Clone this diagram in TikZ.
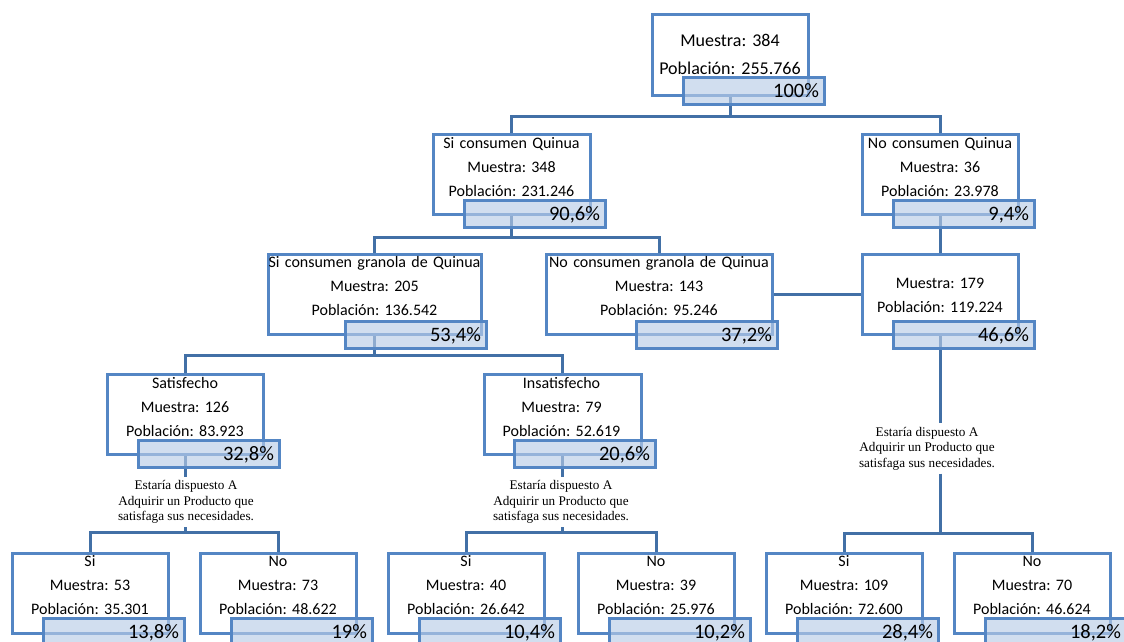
\documentclass[tikz,border=0pt]{standalone}
\usepackage{fontspec}
\setmainfont{Carlito}
\newfontfamily\notafont{Liberation Serif}
\usetikzlibrary{backgrounds}
\frenchspacing
\definecolor{marco}{RGB}{84,134,196}
\definecolor{enlace}{RGB}{66,112,166}
\definecolor{banda}{RGB}{184,204,230}
\tikzset{
  caja/.style={draw=marco,line width=3pt,minimum height=80pt,inner sep=0pt},
  dato/.style={text width=240pt,align=center,anchor=base,inner sep=0pt,
    font=\fontsize{16}{24}\selectfont},
  pct/.style={draw=marco,line width=3pt,fill=banda,fill opacity=0.65,text opacity=1,
    minimum width=141pt,minimum height=27pt,text width=131pt,align=right,
    inner xsep=5pt,inner ysep=0pt,text height=13pt,text depth=0pt,
    font=\fontsize{20.5}{24}\selectfont},
  nota/.style={align=center,inner xsep=2pt,inner ysep=3.5pt,
    font=\notafont\fontsize{13.2}{15.5}\selectfont},
  link/.style={draw=enlace,line width=3pt},
}

\begin{document}
\begin{tikzpicture}[x=1pt,y=-1pt]
  \useasboundingbox (0,0) rectangle (1124,641);
  % total
  \node[caja,minimum width=156pt,minimum height=81pt] (r) at (730,54.5) {};
  \node[dato,font=\fontsize{18}{28}\selectfont] (r-t) at (730,46) {Muestra: 384\\Población: 255.766};
  \node[pct] (r-p) at (753.5,90.5) {100\%};
  % consumo de quinua
  \node[caja,minimum width=157pt] (a) at (511.5,174) {};
  \node[dato] (a-t) at (511.5,148) {Si consumen Quinua\\Muestra: 348\\Población: 231.246};
  \node[pct] (a-p) at (534.5,213.5) {90,6\%};
  \node[caja,minimum width=156pt] (b) at (940,174) {};
  \node[dato] (b-t) at (940,148) {No consumen Quinua\\Muestra: 36\\Población: 23.978};
  \node[pct] (b-p) at (963.5,213.5) {9,4\%};
  % consumo de granola
  \node[caja,minimum width=213pt] (c) at (374.5,294) {};
  \node[dato] (c-t) at (374.5,267.5) {Si consumen granola de Quinua\\Muestra: 205\\Población: 136.542};
  \node[pct] (c-p) at (415.5,334.5) {53,4\%};
  \node[caja,minimum width=226pt] (d) at (659,294) {};
  \node[dato] (d-t) at (659,267.5) {No consumen granola de Quinua\\Muestra: 143\\Población: 95.246};
  \node[pct] (d-p) at (706.5,334.5) {37,2\%};
  \node[caja,minimum width=156pt] (e) at (940,294) {};
  \node[dato] (e-t) at (940,288) {Muestra: 179\\Población: 119.224};
  \node[pct] (e-p) at (963.5,334.5) {46,6\%};
  % satisfaccion
  \node[caja,minimum width=156pt] (f) at (185,414) {};
  \node[dato] (f-t) at (185,388) {Satisfecho\\Muestra: 126\\Población: 83.923};
  \node[pct] (f-p) at (208.5,453.5) {32,8\%};
  \node[caja,minimum width=157pt] (g) at (562.5,414) {};
  \node[dato] (g-t) at (561.5,388) {Insatisfecho\\Muestra: 79\\Población: 52.619};
  \node[pct] (g-p) at (584.5,453.5) {20,6\%};
  % pregunta
  \node[nota] (f-n) at (186,502) {Estaría dispuesto A\\Adquirir un Producto que\\satisfaga sus necesidades.};
  \node[nota] (g-n) at (561,502) {Estaría dispuesto A\\Adquirir un Producto que\\satisfaga sus necesidades.};
  \node[nota] (e-n) at (927,448.5) {Estaría dispuesto A\\Adquirir un Producto que\\satisfaga sus necesidades.};
  % respuestas
  \foreach \n/\cx/\ti/\mm/\pp/\pc in {h/90/Si/53/35.301/{13,8}, i/278/No/73/48.622/19,
      j/466/Si/40/26.642/{10,4}, k/656/No/39/25.976/{10,2},
      l/844/Si/109/72.600/{28,4}, m/1032/No/70/46.624/{18,2}}{
    \node[caja,minimum width=156pt] (\n) at (\cx,593) {};
    \node[dato] (\n-t) at (\cx,566.5) {\ti\\Muestra: \mm\\Población: \pp};
    \node[pct] (\n-p) at (\cx+23.5,631.5) {\pc\%};
  }
  % ramas
  \begin{scope}[on background layer]
    \coordinate (r-j) at (730,116);
    \draw[link] (r.south) -- (r-j);
    \draw[link] (a.north) |- (r-j) -| (b.north);
    \coordinate (a-j) at (511.5,237);
    \draw[link] (a.south) -- (a-j);
    \draw[link] (c.north) |- (a-j) -| (d.north);
    \draw[link] (b.south) -- (e.north);
    \draw[link] (d.east) -- (e.west);
    \coordinate (c-j) at (374.5,355);
    \draw[link] (c.south) -- (c-j);
    \draw[link] (f.north) |- (c-j) -| (g.north);
    \coordinate (f-j) at (185,532);
    \draw[link] (f.south) -- (f.south |- f-n.north);
    \draw[link] (f.south |- f-n.south) -- (f-j);
    \draw[link] (h.north) |- (f-j) -| (i.north);
    \coordinate (g-j) at (562.5,532);
    \draw[link] (g.south) -- (g.south |- g-n.north);
    \draw[link] (g.south |- g-n.south) -- (g-j);
    \draw[link] (j.north) |- (g-j) -| (k.north);
    \coordinate (e-j) at (940,533);
    \draw[link] (e.south) -- (e.south |- e-n.north);
    \draw[link] (e.south |- e-n.south) -- (e-j);
    \draw[link] (l.north) |- (e-j) -| (m.north);
  \end{scope}
\end{tikzpicture}
\end{document}
